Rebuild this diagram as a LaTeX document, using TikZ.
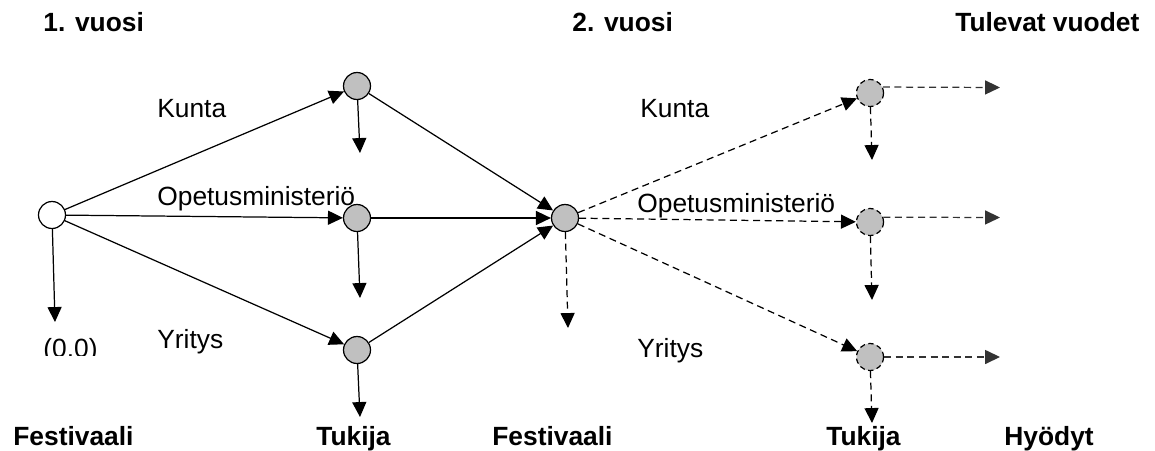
\documentclass[tikz,border=0pt]{standalone}
\usepackage{fontspec}
\setmainfont{Liberation Sans}
\usetikzlibrary{arrows.meta}
\definecolor{nodegray}{RGB}{192,192,192}
\definecolor{tipgray}{RGB}{51,51,51}
\begin{document}
\begin{tikzpicture}[x=0.02cm,y=-0.02cm,
  dot/.style={circle,draw,line width=0.7pt,minimum size=0.54cm,inner sep=0pt},
  gdot/.style={dot,fill=nodegray},
  ddot/.style={gdot,dash pattern=on 3pt off 2pt},
  arr/.style={line width=0.7pt,-{Triangle[length=8.5pt,width=8pt]}},
  darr/.style={arr,dash pattern=on 4pt off 2.6pt},
  rarr/.style={darr,draw=tipgray,-{Triangle[length=8.5pt,width=8pt,fill=tipgray]}},
  lab/.style={anchor=base west,inner sep=0pt,font=\fontsize{15}{18}\selectfont},
  blab/.style={anchor=base west,inner sep=0pt,font=\fontsize{15}{18}\selectfont\bfseries}]
\useasboundingbox (0,0) rectangle (1155,450);

% nodes
\node[dot,fill=white] (A) at (52,215) {};
\node[gdot] (B1) at (357,86) {};
\node[gdot] (B2) at (357,218) {};
\node[gdot] (B3) at (357,350) {};
\node[gdot] (F) at (565,218) {};
\node[ddot] (C1) at (870,93) {};
\node[ddot] (C2) at (870,222) {};
\node[ddot] (C3) at (870,357) {};

% free ends
\coordinate (a0) at (55,322);
\coordinate (b1d) at (360,153);
\coordinate (b2d) at (360,298);
\coordinate (b3d) at (360,417);
\coordinate (fd) at (568,328);
\coordinate (c1d) at (872,160);
\coordinate (c2d) at (872,300);
\coordinate (c3d) at (872,423);
\coordinate (c1r) at (1000,87.5);
\coordinate (c2r) at (1000,217.5);
\coordinate (c3r) at (1000,357);

% year 1
\draw[arr] (A) -- (B1);
\draw[arr] (A) -- (B2);
\draw[arr] (A) -- (B3);
\draw[arr] (A) -- (a0);
\draw[arr] (B1) -- (b1d);
\draw[arr] (B2) -- (b2d);
\draw[arr] (B3) -- (b3d);
\draw[arr] (B1) -- (F);
\draw[arr] (B2) -- (F);
\draw[arr] (B3) -- (F);

% year 2
\draw[darr] (F) -- (C1);
\draw[darr] (F) -- (C2);
\draw[darr] (F) -- (C3);
\draw[darr] (F) -- (fd);
\draw[darr] (C1) -- (c1d);
\draw[darr] (C2) -- (c2d);
\draw[darr] (C3) -- (c3d);
\draw[rarr] (C1.25) -- (c1r);
\draw[rarr] (C2.20) -- (c2r);
\draw[rarr] (C3) -- (c3r);

% labels
\node[blab] (y1) at (43,31) {1. vuosi};
\node[blab] (y2) at (572,31) {2. vuosi};
\node[blab] (y3) at (955,31) {Tulevat vuodet};

\node[lab] (k1) at (157,117) {Kunta};
\node[lab] (o1) at (157,205) {Opetusministeriö};
\node[lab] (r1) at (157,348) {Yritys};
\node[lab] (k2) at (640,117) {Kunta};
\node[lab] (o2) at (637,212) {Opetusministeriö};
\node[lab] (r2) at (637,357) {Yritys};

\begin{scope}
\clip (0,0) rectangle (1155,355);
\node[lab] (zero) at (43,357) {(0.0)};
\end{scope}

\node[blab] (f1) at (13,445) {Festivaali};
\node[blab] (t1) at (316,445) {Tukija};
\node[blab] (f2) at (492,445) {Festivaali};
\node[blab] (t2) at (826,445) {Tukija};
\node[blab] (h) at (1004,445) {Hyödyt};
\end{tikzpicture}
\end{document}
